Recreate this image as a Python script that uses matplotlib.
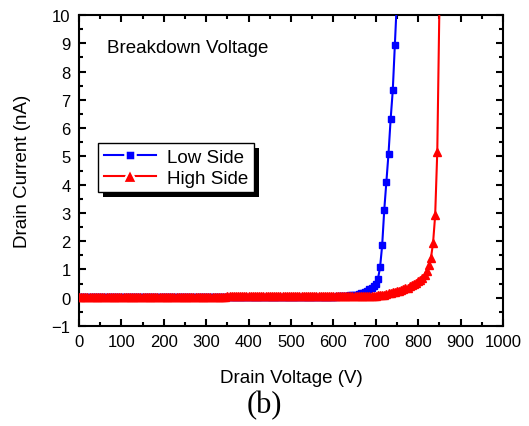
import numpy as np
import matplotlib
matplotlib.use("Agg")
import matplotlib.pyplot as plt
from matplotlib.lines import Line2D
from matplotlib.patches import Rectangle

plt.rcParams['font.family'] = ['Liberation Sans', 'DejaVu Sans']

# ---- data; voltage sweep in 5 V steps ----
low_v = list(range(0, 755, 5))
low_i = [
    0.01, 0.01, 0.01, 0.01, 0.01, 0.01, 0.01, 0.01, 0.01, 0.01,  # 0-45
    0.01, 0.01, 0.01, 0.01, 0.01, 0.01, 0.01, 0.01, 0.01, 0.01,  # 50-95
    0.01, 0.01, 0.01, 0.01, 0.01, 0.01, 0.01, 0.01, 0.01, 0.01,  # 100-145
    0.01, 0.01, 0.01, 0.01, 0.01, 0.01, 0.01, 0.01, 0.01, 0.01,  # 150-195
    0.01, 0.01, 0.01, 0.01, 0.01, 0.01, 0.01, 0.01, 0.01, 0.01,  # 200-245
    0.02, 0.02, 0.02, 0.02, 0.02, 0.02, 0.02, 0.02, 0.02, 0.02,  # 250-295
    0.02, 0.02, 0.02, 0.02, 0.02, 0.02, 0.02, 0.02, 0.02, 0.02,  # 300-345
    0.02, 0.02, 0.02, 0.02, 0.02, 0.02, 0.02, 0.02, 0.02, 0.02,  # 350-395
    0.02, 0.02, 0.02, 0.02, 0.02, 0.02, 0.02, 0.02, 0.02, 0.02,  # 400-445
    0.02, 0.02, 0.02, 0.02, 0.02, 0.02, 0.02, 0.02, 0.02, 0.02,  # 450-495
    0.02, 0.02, 0.02, 0.02, 0.02, 0.02, 0.02, 0.02, 0.02, 0.02,  # 500-545
    0.03, 0.03, 0.03, 0.03, 0.03, 0.03, 0.03, 0.03, 0.03, 0.03,  # 550-595
    0.04, 0.04, 0.05, 0.05, 0.06, 0.06, 0.07, 0.07, 0.08, 0.09,  # 600-645
    0.10, 0.11, 0.13, 0.15, 0.18, 0.21, 0.25, 0.30, 0.36, 0.42,  # 650-695
    0.50, 0.66, 1.07, 1.85, 3.12, 4.11, 5.10, 6.32, 7.33, 8.95,  # 700-745
    10.6,                                                        # 750
]

high_v = list(range(0, 855, 5))
high_i = [
    0.04, 0.04, 0.04, 0.04, 0.04, 0.04, 0.04, 0.04, 0.04, 0.04,  # 0-45
    0.04, 0.04, 0.04, 0.04, 0.04, 0.04, 0.04, 0.04, 0.04, 0.04,  # 50-95
    0.04, 0.04, 0.04, 0.04, 0.04, 0.04, 0.04, 0.04, 0.04, 0.04,  # 100-145
    0.04, 0.04, 0.04, 0.04, 0.04, 0.04, 0.04, 0.04, 0.04, 0.04,  # 150-195
    0.04, 0.04, 0.04, 0.04, 0.04, 0.04, 0.04, 0.04, 0.04, 0.04,  # 200-245
    0.04, 0.04, 0.04, 0.04, 0.04, 0.04, 0.04, 0.04, 0.04, 0.04,  # 250-295
    0.04, 0.04, 0.04, 0.04, 0.04, 0.04, 0.04, 0.04, 0.04, 0.04,  # 300-345
    0.05, 0.05, 0.05, 0.05, 0.05, 0.05, 0.05, 0.05, 0.05, 0.05,  # 350-395
    0.05, 0.05, 0.05, 0.05, 0.05, 0.05, 0.05, 0.05, 0.05, 0.05,  # 400-445
    0.05, 0.05, 0.05, 0.05, 0.05, 0.05, 0.05, 0.05, 0.05, 0.05,  # 450-495
    0.05, 0.05, 0.05, 0.05, 0.05, 0.05, 0.05, 0.05, 0.05, 0.05,  # 500-545
    0.05, 0.05, 0.05, 0.05, 0.05, 0.05, 0.05, 0.05, 0.05, 0.05,  # 550-595
    0.05, 0.05, 0.05, 0.05, 0.05, 0.06, 0.06, 0.06, 0.06, 0.06,  # 600-645
    0.06, 0.06, 0.06, 0.07, 0.07, 0.07, 0.07, 0.07, 0.07, 0.07,  # 650-695
    0.07, 0.08, 0.08, 0.09, 0.11, 0.13, 0.15, 0.17, 0.19, 0.21,  # 700-745
    0.23, 0.25, 0.28, 0.30, 0.33, 0.36, 0.40, 0.44, 0.48, 0.53,  # 750-795
    0.58, 0.64, 0.70, 0.80, 0.95, 1.15, 1.40, 1.93, 2.91, 5.17,  # 800-845
    10.3,                                                        # 850
]

x_ticks = list(range(0, 1001, 100))
y_ticks = list(range(-1, 11))
series_names = ['Low Side', 'High Side']

fig = plt.figure(figsize=(5.29, 4.27), dpi=100)
ax = fig.add_axes([79/529, 1-327/427, 424/529, 311/427])

ax.plot(low_v, low_i, color='#0000ff', lw=1.5, marker='s', ms=4.6,
        mec='#0000ff', mfc='#0000ff', zorder=3)
ax.plot(high_v, high_i, color='#ff0000', lw=1.5, marker='^', ms=6,
        mec='#ff0000', mfc='#ff0000', zorder=4)

ax.set_xlim(0, 1000)
ax.set_ylim(-1, 10)
ax.set_xticks(x_ticks)
ax.set_yticks(y_ticks)
ax.set_xticks(np.arange(50, 1000, 100), minor=True)
ax.set_yticks(np.arange(-0.5, 10, 1), minor=True)
ax.tick_params(which='both', direction='in', top=True, right=True, labelsize=12,
               width=1.5, color='black')
ax.tick_params(which='major', length=5)
ax.tick_params(which='minor', length=3)
ax.tick_params(axis='x', pad=6)
ax.tick_params(axis='y', pad=6)
for s in ax.spines.values():
    s.set_linewidth(1.5)

ax.set_xlabel('Drain Voltage (V)', fontsize=13.5, labelpad=14)
ax.set_ylabel('Drain Current (nA)', fontsize=13.5, labelpad=15)

ax.text(0.065, 0.895, 'Breakdown Voltage', transform=ax.transAxes, fontsize=13.5,
        va='center', ha='left')

handles = [Line2D([], [], color='#0000ff', lw=1.5, marker='s', ms=7, mfc='#0000ff',
                  mec='white', mew=1.8),
           Line2D([], [], color='#ff0000', lw=1.5, marker='^', ms=9.5, mfc='#ff0000',
                  mec='white', mew=1.6)]
leg = ax.legend(handles, series_names, loc='upper left',
                bbox_to_anchor=(0.045, 0.588), borderaxespad=0, fontsize=13.5,
                frameon=True, fancybox=False, edgecolor='black', framealpha=1,
                numpoints=1, handlelength=2.8, handletextpad=0.6,
                borderpad=0.3, labelspacing=0.2)
leg.get_frame().set_linewidth(1.0)
leg.set_zorder(10)

fig.text(0.5, 1-406/427, '(b)', fontsize=22, ha='center', va='center',
         family=['Liberation Serif', 'DejaVu Serif'])

fig.canvas.draw()
bb = leg.get_window_extent()
shadow = Rectangle((bb.x0 + 5, bb.y0 - 5), bb.width, bb.height, transform=None,
                   facecolor='black', edgecolor='none', zorder=9)
ax.add_artist(shadow)
shadow.set_clip_on(False)

fig.savefig('out.png', dpi=100)
